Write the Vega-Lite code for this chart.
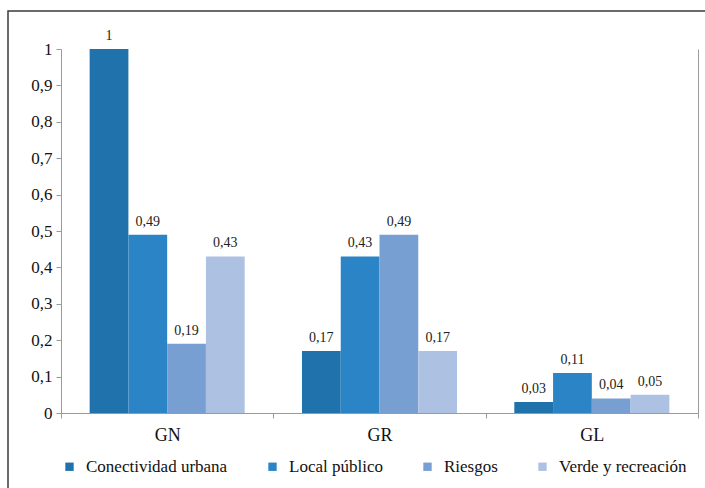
{
  "$schema": "https://vega.github.io/schema/vega-lite/v6.json",
  "width": 637,
  "height": 364,
  "autosize": {"type": "none"},
  "padding": {"left": 61, "top": 49, "right": 7, "bottom": 75},
  "background": "white",
  "config": {
    "font": "Liberation Serif, Times New Roman, serif",
    "view": {"stroke": null},
    "locale": {"number": {"decimal": ",", "thousands": ".", "grouping": [3], "currency": ["", " €"]}},
    "axis": {"labelFont": "Liberation Serif, Times New Roman, serif", "labelColor": "#111111", "domainColor": "#9a9a9a", "tickColor": "#9a9a9a", "grid": false, "title": null},
    "legend": {"labelFont": "Liberation Serif, Times New Roman, serif", "labelColor": "#111111"},
    "text": {"font": "Liberation Serif, Times New Roman, serif"}
  },
  "layer": [
    {
      "data": {"values": [
        {"grupo": "GN", "serie": "Conectividad urbana", "valor": 1},
        {"grupo": "GN", "serie": "Local público", "valor": 0.49},
        {"grupo": "GN", "serie": "Riesgos", "valor": 0.19},
        {"grupo": "GN", "serie": "Verde y recreación", "valor": 0.43},
        {"grupo": "GR", "serie": "Conectividad urbana", "valor": 0.17},
        {"grupo": "GR", "serie": "Local público", "valor": 0.43},
        {"grupo": "GR", "serie": "Riesgos", "valor": 0.49},
        {"grupo": "GR", "serie": "Verde y recreación", "valor": 0.17},
        {"grupo": "GL", "serie": "Conectividad urbana", "valor": 0.03},
        {"grupo": "GL", "serie": "Local público", "valor": 0.11},
        {"grupo": "GL", "serie": "Riesgos", "valor": 0.04},
        {"grupo": "GL", "serie": "Verde y recreación", "valor": 0.05}
      ]},
      "encoding": {
        "x": {
          "field": "grupo", "type": "nominal", "sort": ["GN", "GR", "GL"],
          "scale": {"paddingInner": 0, "paddingOuter": 0},
          "axis": {"labelAngle": 0, "labelFontSize": 18, "tickBand": "extent", "tickExtra": true, "tickSize": 5, "labelPadding": 8, "domainColor": "#9a9a9a"}
        },
        "xOffset": {
          "field": "serie", "type": "nominal",
          "sort": ["Conectividad urbana", "Local público", "Riesgos", "Verde y recreación"],
          "scale": {"paddingInner": 0, "paddingOuter": 0.739}
        },
        "y": {
          "field": "valor", "type": "quantitative",
          "scale": {"domain": [0, 1], "nice": false},
          "axis": {"values": [0, 0.1, 0.2, 0.3, 0.4, 0.5, 0.6, 0.7, 0.8, 0.9, 1], "format": ".1~f", "labelFontSize": 17, "tickSize": 5, "labelPadding": 4}
        }
      },
      "layer": [
        {
          "mark": {"type": "bar"},
          "encoding": {
            "color": {
              "field": "serie", "type": "nominal",
              "sort": ["Conectividad urbana", "Local público", "Riesgos", "Verde y recreación"],
              "scale": {"range": ["#1f72ac", "#2b84c6", "#789fd1", "#adc2e3"]},
              "legend": {"orient": "bottom", "direction": "horizontal", "title": null, "symbolType": "square", "symbolSize": 70, "symbolStrokeWidth": 0, "labelFontSize": 17, "columnPadding": 36, "labelOffset": 8, "offset": 14}
            }
          }
        },
        {
          "mark": {"type": "text", "baseline": "alphabetic", "dy": -9, "fontSize": 14, "color": "#222222", "font": "Liberation Serif, Times New Roman, serif"},
          "encoding": {"text": {"field": "valor", "type": "quantitative", "format": ".2~f"}}
        }
      ]
    },
    {
      "data": {"values": [{}]},
      "mark": {"type": "rect", "fill": "transparent", "stroke": "#3a3a3a", "strokeWidth": 1.5},
      "encoding": {
        "x": {"datum": -0.0832, "type": "quantitative", "scale": {"domain": [0, 1], "nice": false}, "axis": null},
        "x2": {"datum": 1.3},
        "y": {"datum": 1.1044, "type": "quantitative", "scale": {"domain": [0, 1], "nice": false},
              "axis": {"orient": "right", "labels": false, "ticks": false, "domain": true, "domainColor": "#9a9a9a", "values": [0, 1]}},
        "y2": {"datum": -0.3}
      }
    }
  ],
  "resolve": {"scale": {"x": "independent"}, "axis": {"x": "independent", "y": "independent"}}
}
